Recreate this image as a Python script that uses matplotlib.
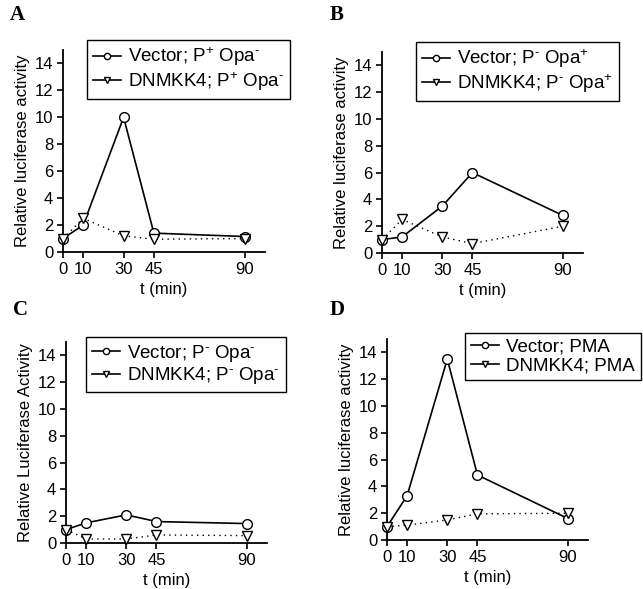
import matplotlib
matplotlib.use("Agg")
import matplotlib.pyplot as plt

plt.rcParams['font.family'] = ['Liberation Sans', 'DejaVu Sans']
plt.rcParams['mathtext.fontset'] = 'custom'
plt.rcParams['mathtext.rm'] = 'Liberation Sans'
plt.rcParams['mathtext.it'] = 'Liberation Sans'
plt.rcParams['mathtext.sf'] = 'Liberation Sans'

t = [0, 10, 30, 45, 90]

vec_a = [1.0, 2.0, 10.0, 1.4, 1.15]
dn_a = [1.0, 2.5, 1.2, 0.95, 1.0]
vec_b = [1.0, 1.2, 3.5, 6.0, 2.8]
dn_b = [1.0, 2.5, 1.2, 0.7, 2.0]
vec_c = [1.0, 1.5, 2.1, 1.6, 1.45]
dn_c = [1.0, 0.3, 0.3, 0.6, 0.55]
vec_d = [1.0, 3.3, 13.5, 4.85, 1.6]
dn_d = [1.0, 1.1, 1.5, 1.95, 2.0]

labels_a = [r'Vector; P$^{+}$ Opa$^{\text{-}}$', r'DNMKK4; P$^{+}$ Opa$^{\text{-}}$']
labels_b = [r'Vector; P$^{\text{-}}$ Opa$^{+}$', r'DNMKK4; P$^{\text{-}}$ Opa$^{+}$']
labels_c = [r'Vector; P$^{\text{-}}$ Opa$^{\text{-}}$', r'DNMKK4; P$^{\text{-}}$ Opa$^{\text{-}}$']
labels_d = ['Vector; PMA', 'DNMKK4; PMA']

ylabels = ['Relative luciferase activity', 'Relative luciferase activity',
           'Relative Luciferase Activity', 'Relative luciferase activity']
letters = ['A', 'B', 'C', 'D']

W, H = 643, 589
fig = plt.figure(figsize=(W / 100, H / 100), dpi=100)

# axes boxes in pixels: left, top(y=15), width, height
boxes = [(63, 50, 202, 202), (382, 52, 201, 201), (66, 342, 201, 201), (387, 339, 201, 201)]
leg_pos = [(87, 40), (416, 42), (86, 337), (465, 333)]
letter_pos = [(17, 15), (337, 15), (20, 310), (337, 310)]
series = [(vec_a, dn_a, labels_a), (vec_b, dn_b, labels_b),
          (vec_c, dn_c, labels_c), (vec_d, dn_d, labels_d)]

for i in range(4):
    l, tp, w, h = boxes[i]
    ax = fig.add_axes([l / W, 1 - (tp + h) / H, w / W, h / H])
    vec, dn, labs = series[i]
    ax.plot(t, vec, '-', color='black', lw=1.2, marker='o', ms=7,
            mfc='white', mec='black', mew=1.0, clip_on=False, zorder=3)
    ax.plot(t, dn, color='black', lw=1.0, dashes=(1, 3), marker='v', ms=7,
            mfc='white', mec='black', mew=1.0, clip_on=False, zorder=4)
    ax.set_xlim(0, 100)
    ax.set_ylim(0, 15)
    ax.set_xticks(t)
    ax.set_yticks(range(0, 15, 2))
    ax.tick_params(labelsize=12, length=4, width=1.2, direction='out', pad=3)
    for s in ['top', 'right']:
        ax.spines[s].set_visible(False)
    for s in ['left', 'bottom']:
        ax.spines[s].set_linewidth(1.3)
    ax.set_xlabel('t (min)', fontsize=12, labelpad=4)
    ax.set_ylabel(ylabels[i], fontsize=12, labelpad=3)

    # legend handles are drawn solid
    h1 = plt.Line2D([], [], color='black', lw=1.2, marker='o', ms=4.5,
                    mfc='white', mec='black')
    h2 = plt.Line2D([], [], color='black', lw=1.2, marker='v', ms=4.5,
                    mfc='white', mec='black')
    lx, ly = leg_pos[i]
    leg = ax.legend([h1, h2], labs, loc='upper left',
                    bbox_to_anchor=(lx / W, 1 - ly / H),
                    bbox_transform=fig.transFigure, borderaxespad=0,
                    fontsize=13.5, handlelength=1.5, handletextpad=0.4,
                    labelspacing=0.1, borderpad=0.3, fancybox=False,
                    framealpha=1, edgecolor='black')
    leg.get_frame().set_linewidth(1.0)

    px, py = letter_pos[i]
    fig.text(px / W, 1 - py / H, letters[i], fontsize=15, fontweight='bold',
             family='Liberation Serif', ha='center', va='center')

fig.savefig('out.png', dpi=100)
